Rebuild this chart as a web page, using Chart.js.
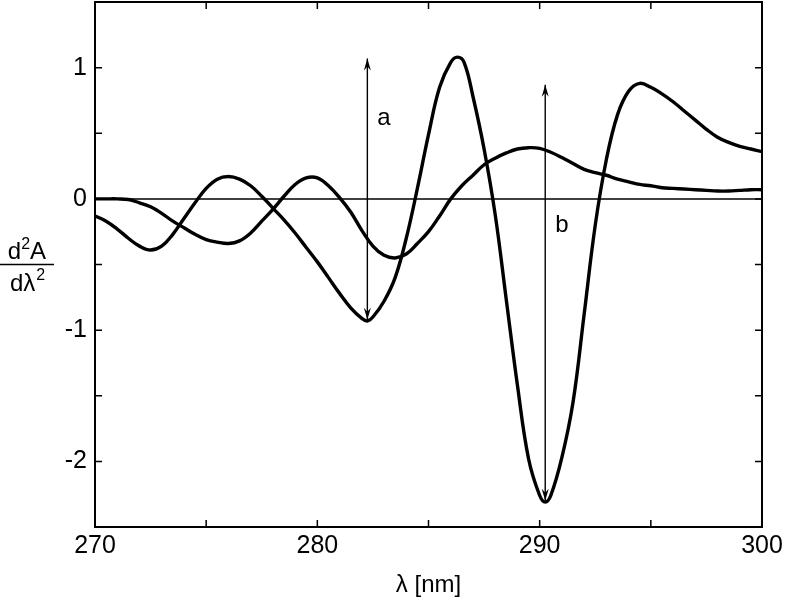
<!DOCTYPE html>
<html>
<head>
<meta charset="utf-8">
<script src="https://cdn.jsdelivr.net/npm/chart.js@4.4.1/dist/chart.umd.min.js"></script>
<style>
html,body{margin:0;padding:0;background:#fff;}
canvas{display:block;}
</style>
</head>
<body>
<canvas id="c" width="786" height="599"></canvas>
<script>
// ---- data ----
const curveBX = [270, 270.5, 271, 271.5, 272, 272.5, 273, 273.5, 274, 274.5, 275, 275.5, 276, 276.5, 277, 277.5, 278, 278.5, 279, 279.5, 280, 280.5, 281, 281.5, 282, 282.25, 282.5, 283, 283.5, 284, 284.5, 285, 285.5, 286, 286.3, 286.6, 287, 287.5, 288, 288.5, 289, 289.5, 290, 290.25, 290.5, 291, 291.5, 292, 292.5, 293, 293.5, 294, 294.5, 295, 295.5, 296, 296.5, 297, 297.5, 298, 298.5, 299, 299.5, 300];
const curveBY = [-0.13, -0.17, -0.23, -0.30, -0.36, -0.39, -0.36, -0.27, -0.15, -0.03, 0.08, 0.15, 0.17, 0.15, 0.10, 0.02, -0.07, -0.16, -0.26, -0.37, -0.48, -0.60, -0.72, -0.83, -0.91, -0.93, -0.90, -0.78, -0.60, -0.30, 0.08, 0.49, 0.85, 1.04, 1.08, 1.04, 0.78, 0.38, -0.12, -0.77, -1.42, -1.98, -2.26, -2.31, -2.26, -1.97, -1.55, -0.88, -0.20, 0.30, 0.64, 0.82, 0.88, 0.85, 0.80, 0.74, 0.67, 0.60, 0.53, 0.47, 0.43, 0.40, 0.38, 0.36];

const curveAX = [270, 270.5, 271, 271.5, 272, 272.5, 273, 273.5, 274, 274.5, 275, 275.5, 276, 276.5, 277, 277.5, 278, 278.5, 279, 279.5, 280, 280.5, 281, 281.5, 282, 282.5, 283, 283.5, 284, 284.5, 285, 285.5, 286, 286.5, 287, 287.5, 288, 288.5, 289, 289.5, 290, 290.5, 291, 291.5, 292, 292.5, 293, 293.5, 294, 294.5, 295, 295.5, 296, 296.5, 297, 297.5, 298, 298.5, 299, 299.5, 300];
const curveAY = [0, 0, 0, -0.005, -0.03, -0.06, -0.11, -0.17, -0.22, -0.27, -0.31, -0.33, -0.34, -0.32, -0.26, -0.17, -0.08, 0.02, 0.11, 0.16, 0.16, 0.10, 0.01, -0.10, -0.24, -0.36, -0.43, -0.45, -0.42, -0.34, -0.25, -0.13, 0.0, 0.10, 0.18, 0.26, 0.31, 0.35, 0.38, 0.39, 0.385, 0.355, 0.315, 0.27, 0.225, 0.20, 0.18, 0.15, 0.13, 0.11, 0.10, 0.085, 0.08, 0.075, 0.07, 0.065, 0.06, 0.06, 0.065, 0.07, 0.07];

const zeroLineX = [270, 300];
const zeroLineY = [0, 0];

const arrowLabels = ['a', 'b'];
const arrowX = [282.25, 290.25];
const arrowBottom = [-0.92, -2.3];
const arrowTop = [1.07, 0.87];
const labelX = [283.0, 291.0];
const labelY = [0.61, -0.2];

const xMin = 270, xMax = 300, xStep = 5, xLabelEvery = 10;
const yMin = -2.5, yMax = 1.5, yStep = 0.5;

const xTitle = 'λ [nm]';
const yTitleNum = ['d', '2', 'A'];
const yTitleDen = ['dλ', '2'];

// ---- build ----
const toPts = (xs, ys) => xs.map((x, i) => ({x: x, y: ys[i]}));
const FONT = '"Liberation Sans", Arial, sans-serif';

const overlay = {
  id: 'overlay',
  afterDraw(chart) {
    const ctx = chart.ctx;
    const a = chart.chartArea;
    const xs = chart.scales.x, ys = chart.scales.y;
    ctx.save();
    ctx.strokeStyle = '#000';
    ctx.fillStyle = '#000';
    // frame
    ctx.lineWidth = 2;
    ctx.strokeRect(a.left, a.top, a.right - a.left, a.bottom - a.top);
    // inward ticks
    const tl = 7;
    ctx.lineWidth = 1.5;
    ctx.beginPath();
    xs.ticks.forEach(t => {
      const px = xs.getPixelForValue(t.value);
      ctx.moveTo(px, a.bottom); ctx.lineTo(px, a.bottom - tl);
      ctx.moveTo(px, a.top); ctx.lineTo(px, a.top + tl);
    });
    ys.ticks.forEach(t => {
      const py = ys.getPixelForValue(t.value);
      ctx.moveTo(a.left, py); ctx.lineTo(a.left + tl, py);
      ctx.moveTo(a.right, py); ctx.lineTo(a.right - tl, py);
    });
    ctx.stroke();
    // arrows
    ctx.lineWidth = 1.4;
    arrowX.forEach((xv, i) => {
      const px = xs.getPixelForValue(xv);
      const pb = ys.getPixelForValue(arrowBottom[i]);
      const pt = ys.getPixelForValue(arrowTop[i]);
      ctx.beginPath();
      ctx.moveTo(px, pb); ctx.lineTo(px, pt);
      ctx.stroke();
      const head = (tipY, dir) => {
        ctx.beginPath();
        ctx.moveTo(px, tipY);
        ctx.lineTo(px - 3.5, tipY + dir * 12);
        ctx.lineTo(px, tipY + dir * 8);
        ctx.lineTo(px + 3.5, tipY + dir * 12);
        ctx.closePath();
        ctx.fill();
      };
      head(pt, 1);
      head(pb, -1);
      ctx.font = '24px ' + FONT;
      ctx.textAlign = 'center';
      ctx.textBaseline = 'middle';
      ctx.fillText(arrowLabels[i], xs.getPixelForValue(labelX[i]), ys.getPixelForValue(labelY[i]));
    });
    // x title
    ctx.font = '24px ' + FONT;
    ctx.textAlign = 'center';
    ctx.textBaseline = 'alphabetic';
    ctx.fillText(xTitle, (a.left + a.right) / 2, 592);
    // y title (fraction)
    ctx.textAlign = 'left';
    const big = '24px ' + FONT, small = '16px ' + FONT;
    ctx.font = big;
    let w1 = ctx.measureText(yTitleNum[0]).width;
    let w3 = ctx.measureText(yTitleNum[2]).width;
    ctx.font = small;
    let w2 = ctx.measureText(yTitleNum[1]).width;
    let x0 = 27 - (w1 + w2 + w3) / 2;
    ctx.font = big; ctx.fillText(yTitleNum[0], x0, 259);
    ctx.font = small; ctx.fillText(yTitleNum[1], x0 + w1, 249);
    ctx.font = big; ctx.fillText(yTitleNum[2], x0 + w1 + w2, 259);
    ctx.font = big;
    let d1 = ctx.measureText(yTitleDen[0]).width;
    ctx.font = small;
    let d2 = ctx.measureText(yTitleDen[1]).width;
    x0 = 27 - (d1 + d2) / 2;
    ctx.font = big; ctx.fillText(yTitleDen[0], x0, 291);
    ctx.font = small; ctx.fillText(yTitleDen[1], x0 + d1 + 1, 280);
    ctx.lineWidth = 1.5;
    ctx.beginPath();
    ctx.moveTo(0, 264.5); ctx.lineTo(54, 264.5);
    ctx.stroke();
    ctx.restore();
  }
};

new Chart(document.getElementById('c'), {
  type: 'line',
  data: {
    datasets: [
      {data: toPts(zeroLineX, zeroLineY), borderColor: '#000', borderWidth: 1.5, pointRadius: 0, tension: 0},
      {data: toPts(curveAX, curveAY), borderColor: '#000', borderWidth: 3.4, pointRadius: 0, tension: 0.4},
      {data: toPts(curveBX, curveBY), borderColor: '#000', borderWidth: 3.4, pointRadius: 0, tension: 0.4}
    ]
  },
  options: {
    responsive: false,
    animation: false,
    devicePixelRatio: 1,
    layout: {padding: {top: 2, right: 24, left: 0, bottom: 0}},
    plugins: {legend: {display: false}, tooltip: {enabled: false}},
    scales: {
      x: {
        type: 'linear', min: xMin, max: xMax,
        border: {display: false},
        grid: {display: false, drawTicks: false},
        ticks: {
          stepSize: xStep, autoSkip: false, maxRotation: 0, padding: 4,
          color: '#000', font: {family: FONT, size: 25},
          callback: v => (v % xLabelEvery === 0 ? String(v) : '')
        },
        afterFit: s => { s.height = 72; s.paddingLeft = 0; s.paddingRight = 0; }
      },
      y: {
        type: 'linear', min: yMin, max: yMax,
        border: {display: false},
        grid: {display: false, drawTicks: false},
        ticks: {
          stepSize: yStep, autoSkip: false, padding: 8,
          color: '#000', font: {family: FONT, size: 25},
          callback: v => (Number.isInteger(v) && v > yMin && v < yMax ? String(v) : '')
        },
        afterFit: s => { s.width = 95; s.paddingTop = 0; s.paddingBottom = 0; }
      }
    }
  },
  plugins: [overlay]
});
</script>
</body>
</html>
